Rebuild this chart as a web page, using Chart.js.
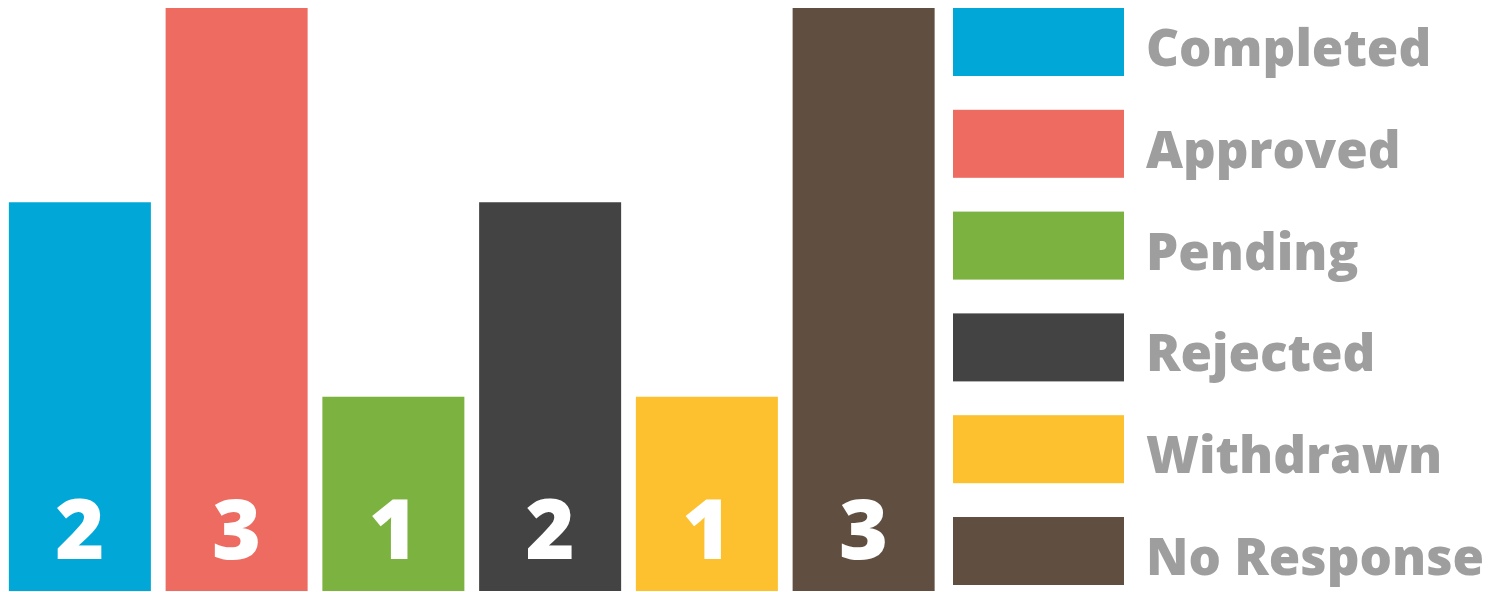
<!DOCTYPE html>
<html><head><meta charset="utf-8">
<script src="https://cdn.jsdelivr.net/npm/chart.js@4.4.0/dist/chart.umd.min.js"></script>
<style>html,body{margin:0;padding:0;background:#fff;}#wrap{width:1505px;height:592px;}</style>
</head><body><div id="wrap"><canvas id="c"></canvas></div>
<script>
const categories = ["Completed","Approved","Pending","Rejected","Withdrawn","No Response"];
const values = [2,3,1,2,1,3];
const colors = ["#00A7D7","#ED6B60","#7CB23F","#434343","#FDC02E","#604F41"];

const labelPlugin = {
  id:'labels',
  afterDatasetsDraw(chart){
    const ctx = chart.ctx;
    const meta = chart.getDatasetMeta(0);
    ctx.save();
    ctx.fillStyle = '#fff';
    ctx.font = '800 84px "Open Sans"';
    ctx.textAlign = 'center';
    ctx.textBaseline = 'alphabetic';
    meta.data.forEach((bar,i)=>{
      ctx.fillText(String(values[i]), bar.x, chart.chartArea.bottom - 32);
    });
    ctx.restore();
  },
  afterDraw(chart){
    const ctx = chart.ctx;
    ctx.save();
    const top = chart.chartArea.top;
    const step = 101.8;
    categories.forEach((c,i)=>{
      const y = top + i*step;
      ctx.fillStyle = colors[i];
      ctx.fillRect(953, y, 171, 68);
      ctx.fillStyle = '#9E9E9E';
      ctx.font = '800 51px "Open Sans"';
      ctx.textAlign = 'left';
      ctx.textBaseline = 'alphabetic';
      ctx.fillText(c, 1146, y + 58);
    });
    ctx.restore();
  }
};

new Chart(document.getElementById('c'), {
  type:'bar',
  data:{labels:categories, datasets:[{data:values, backgroundColor:colors, borderWidth:0, categoryPercentage:1, barPercentage:0.906}]},
  options:{
    responsive:true, maintainAspectRatio:false, animation:false,
    layout:{padding:{left:1.5, top:8, bottom:1, right:563}},
    plugins:{legend:{display:false}, tooltip:{enabled:false}},
    scales:{
      x:{display:false},
      y:{display:false, min:0, max:3}
    }
  },
  plugins:[labelPlugin]
});
</script></body></html>
